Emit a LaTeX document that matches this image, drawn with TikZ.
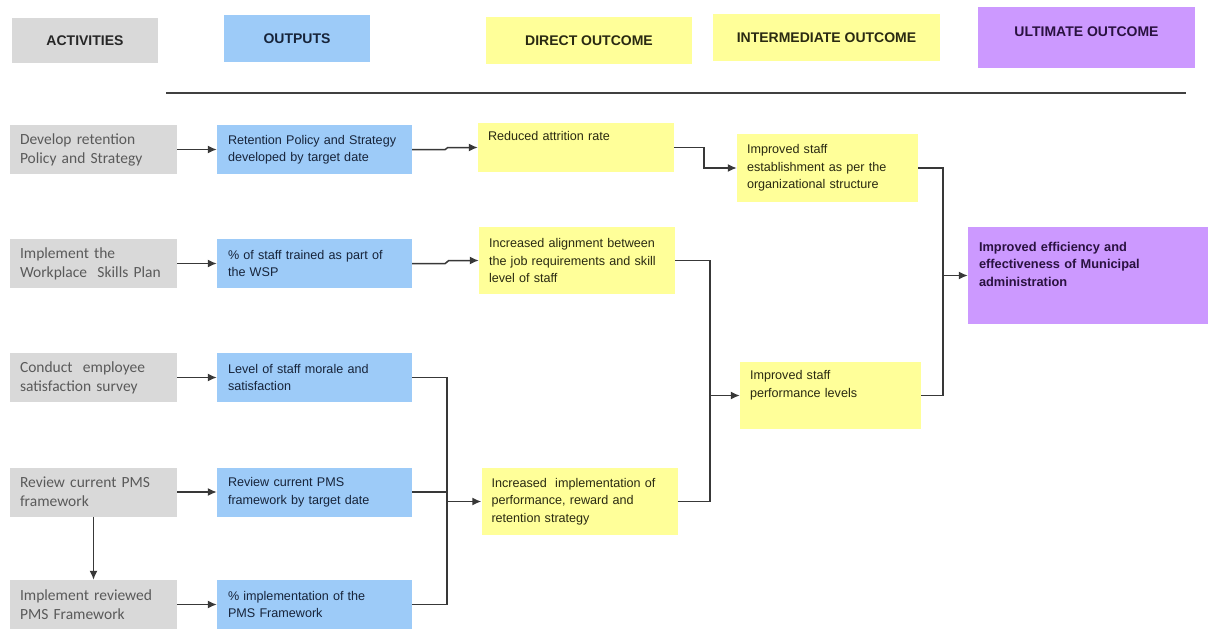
\documentclass[tikz,border=0pt]{standalone}
\usepackage{fontspec}
\setmainfont{Liberation Sans}
\newfontfamily\actfnt{Carlito}
\usetikzlibrary{arrows.meta,calc}
\definecolor{actgray}{HTML}{D9D9D9}
\definecolor{outblue}{HTML}{9DCBF8}
\definecolor{yel}{HTML}{FFFF99}
\definecolor{purp}{HTML}{CC99FF}
\definecolor{acttext}{HTML}{5A5A5A}
\definecolor{bluetext}{HTML}{17243A}
\definecolor{yeltext}{HTML}{2A2A12}
\definecolor{purtext}{HTML}{2A1240}
\definecolor{linec}{HTML}{383838}
\hyphenpenalty=10000
\exhyphenpenalty=10000
\begin{document}
\begin{tikzpicture}[x=1pt,y=-1pt,
  hdr/.style={rectangle,inner sep=0pt,font=\fontsize{14}{16}\selectfont\bfseries},
  actbox/.style={rectangle,fill=actgray,text=acttext,inner xsep=10pt,inner ysep=0pt,
     text width=147pt,minimum height=49pt,align=left,font=\actfnt\fontsize{15.5}{19}\selectfont},
  outbox/.style={rectangle,fill=outblue,text=bluetext,inner xsep=11pt,inner ysep=0pt,
     text width=173pt,minimum height=49pt,align=left,font=\fontsize{12.6}{17.5}\selectfont},
  yelbox/.style={rectangle,fill=yel,text=yeltext,inner xsep=10pt,inner ysep=0pt,
     align=left,font=\fontsize{12.6}{17.5}\selectfont},
  ultbox/.style={rectangle,fill=purp,text=purtext,inner xsep=11pt,inner ysep=0pt,
     text width=218pt,minimum height=97pt,align=left,font=\fontsize{12.8}{17.5}\selectfont\bfseries},
  conn/.style={draw=linec,line width=1.5pt},
  arr/.style={conn,-{Latex[length=9pt,width=8pt]}}]
\useasboundingbox (0,0) rectangle (1208,629);
% headers
\node[hdr,fill=actgray,text=black!85,minimum width=146pt,minimum height=45pt] (h1) at (85,40.5) {ACTIVITIES};
\node[hdr,fill=outblue,text=bluetext,minimum width=146pt,minimum height=47pt] (h2) at (297,38.5) {OUTPUTS};
\node[hdr,fill=yel,text=yeltext,minimum width=206pt,minimum height=47pt] (h3) at (589,40.5) {DIRECT OUTCOME};
\node[hdr,fill=yel,text=yeltext,minimum width=227pt,minimum height=47pt] (h4) at (826.5,37.5) {INTERMEDIATE OUTCOME};
\node[hdr,fill=purp,text=purtext,minimum width=217pt,minimum height=61pt] (h5) at (1086.5,37.5) {\raisebox{12pt}{ULTIMATE OUTCOME}};
\coordinate (l1) at (166,93);
\coordinate (l2) at (1186,93);
\draw[draw=black!75,line width=1.4pt] (l1) -- (l2);
% activities
\node[actbox] (a1) at (93.5,149.5) {Develop retention\\Policy and Strategy};
\node[actbox] (a2) at (93.5,263.5) {Implement the\\Workplace\ \ Skills Plan};
\node[actbox] (a3) at (93.5,377.5) {Conduct\ \ employee\\satisfaction survey};
\node[actbox] (a4) at (93.5,492) {Review current PMS\\framework};
\node[actbox] (a5) at (93.5,604.5) {Implement reviewed\\PMS Framework};
% outputs
\node[outbox] (o1) at (314.5,149.5) {Retention Policy and Strategy\\developed by target date};
\node[outbox] (o2) at (314.5,263.5) {\% of staff trained as part of\\the WSP};
\node[outbox] (o3) at (314.5,377.5) {Level of staff morale and\\satisfaction};
\node[outbox] (o4) at (314.5,492) {Review current PMS\\framework by target date};
\node[outbox] (o5) at (314.5,604.5) {\% implementation of the\\PMS Framework};
% direct outcomes
\node[yelbox,text width=176pt,minimum height=49pt] (d1) at (576,147.5) {Reduced attrition rate\\\strut};
\node[yelbox,text width=176pt,minimum height=67pt] (d2) at (577,260.5) {Increased alignment between\\the job requirements and skill\\level of staff};
\node[yelbox,text width=176pt,minimum height=67pt] (d3) at (579.5,501.5) {Increased\ \ implementation of\\performance, reward and\\retention strategy};
% intermediate
\node[yelbox,text width=161pt,minimum height=68pt] (i1) at (827.5,168) {Improved staff\\establishment as per the\\organizational structure};
\node[yelbox,text width=161pt,minimum height=67pt] (i2) at (830.5,395.5) {Improved staff\\performance levels\\\strut};
% ultimate
\node[ultbox] (u) at (1088,275.5) {Improved efficiency and\\effectiveness of Municipal\\administration\\\strut};
% connectors
\draw[arr] (a1.east) -- (o1.west);
\draw[arr] (a2.east) -- (o2.west);
\draw[arr] (a3.east) -- (o3.west);
\draw[arr] (a4.east) -- (o4.west);
\draw[arr] (a5.east) -- (o5.west);
\draw[arr] (a4.south) -- (a5.north);
\draw[arr] (o1.east) -- ++(33,0) -- ([xshift=-30pt]d1.west) -- (d1.west);
\draw[arr] (o2.east) -- ++(33,0) -- ([xshift=-30pt]d2.west) -- (d2.west);
\draw[arr] (d1.east) -- ++(30,0) |- (i1.west);
\coordinate (j2) at ($(d2.east)+(35,0)$);
\draw[arr] (d2.east) -- (j2) |- (i2.west);
\draw[conn] (d3.east) -| (j2 |- i2.west);
\coordinate (j3) at (447,501.5);
\draw[conn] (o3.east) -| (j3);
\draw[conn] (o4.east) -| (j3);
\draw[conn] (o5.east) -| (j3);
\draw[arr] (j3) -- (d3.west);
\coordinate (j4) at (943,275.5);
\draw[conn] (i1.east) -| (j4);
\draw[conn] (i2.east) -| (j4);
\draw[arr] (j4) -- (u.west);
\end{tikzpicture}
\end{document}
